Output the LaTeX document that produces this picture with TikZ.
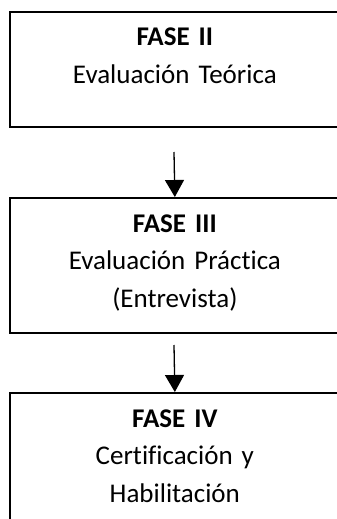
\documentclass[tikz,border=0pt]{standalone}
\usepackage{fontspec}
\setmainfont{Carlito}[Ligatures=CommonOff,WordSpace=0.85]
\usetikzlibrary{arrows.meta}

\begin{document}
\begin{tikzpicture}[x=1pt,y=1pt,
  fase/.style={draw=black,line width=1.7pt,minimum width=330pt,anchor=north west,inner sep=0pt},
  flecha/.style={-{Triangle[length=17pt,width=19pt]},draw=black,line width=1.3pt},
  texto/.style={font=\fontsize{27}{37.5}\selectfont,text width=330pt,align=center,anchor=base,inner sep=0pt},
]
\useasboundingbox (0,0) rectangle (337,-519);
% cajas de las fases
\node[fase,minimum height=115pt] (f2) at (9,-11) {};
\node[fase,minimum height=135pt] (f3) at (9,-197) {};
\node[fase,minimum height=140pt] (f4) at (9,-392) {};
\node[texto] (t2) at ([yshift=-35pt]f2.north) {\textbf{FASE II}\\Evaluación Teórica};
\node[texto] (t3) at ([yshift=-35pt]f3.north) {\textbf{FASE III}\\Evaluación Práctica\\(Entrevista)};
\node[texto] (t4) at ([yshift=-35pt]f4.north) {\textbf{FASE IV}\\Certificación y\\Habilitación};
% flechas
\coordinate (s2) at (174,-152);
\coordinate (s3) at (174,-345);
\draw[flecha] (s2) -- (f3.north);
\draw[flecha] (s3) -- (f4.north);
\end{tikzpicture}
\end{document}
